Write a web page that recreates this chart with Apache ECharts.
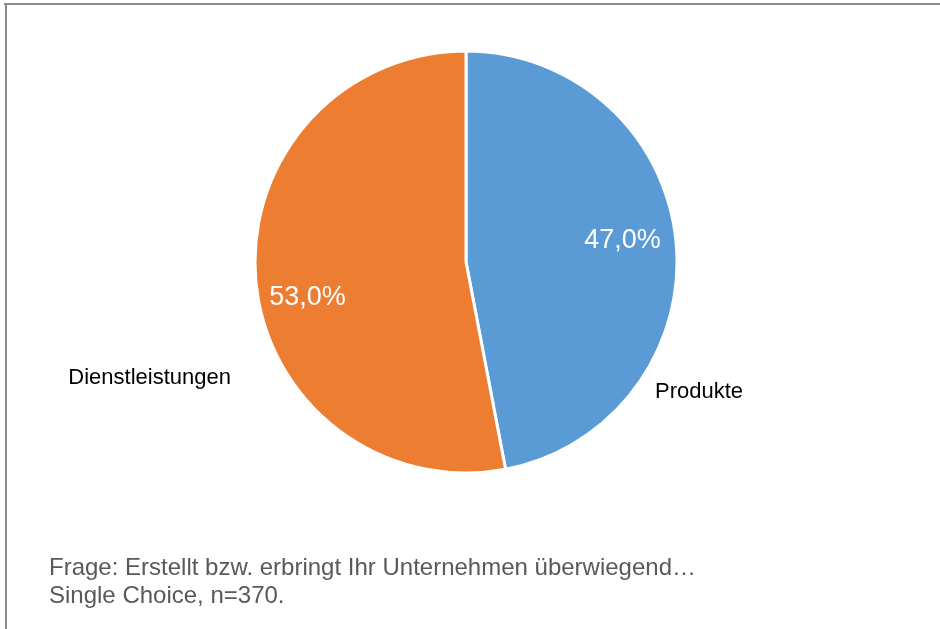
<!DOCTYPE html>
<html>
<head>
<meta charset="utf-8">
<script src="https://cdn.jsdelivr.net/npm/echarts@6/dist/echarts.min.js"></script>
<style>
html,body{margin:0;padding:0;background:#fff;}
#frame{position:absolute;left:0;top:0;width:940px;height:629px;}
#chart{width:940px;height:629px;}
</style>
</head>
<body>
<div id="frame"><div id="chart"></div></div>
<script>
var categories = ['Produkte', 'Dienstleistungen'];
var values = [47.0, 53.0];
var colors = ['#5B9BD5', '#ED7D31'];
var noteLines = ['Frage: Erstellt bzw. erbringt Ihr Unternehmen überwiegend…', 'Single Choice, n=370.'];

var data = categories.map(function (c, i) {
  return { name: c, value: values[i], itemStyle: { color: colors[i] } };
});
function fmtPct(v) { return v.toFixed(1).replace('.', ',') + '%'; }

var chart = echarts.init(document.getElementById('chart'), null, { renderer: 'canvas' });
var R = 211, CX = 466, CY = 262;
chart.setOption({
  backgroundColor: '#fff',
  animation: false,
  title: {
    text: noteLines.join('\n'),
    left: 44, top: 549,
    textStyle: { fontFamily: 'Liberation Sans, Arial, sans-serif', fontSize: 24, fontWeight: 'normal', color: '#595959', lineHeight: 28 }
  },
  graphic: [
    { type: 'line', shape: { x1: 4, y1: 4, x2: 940, y2: 4 }, style: { stroke: '#8c8c8c', lineWidth: 2 }, silent: true },
    { type: 'line', shape: { x1: 6, y1: 3, x2: 6, y2: 629 }, style: { stroke: '#8c8c8c', lineWidth: 2 }, silent: true }
  ],
  series: [
    {
      type: 'pie',
      center: [CX, CY],
      radius: [0, R],
      startAngle: 90,
      clockwise: true,
      data: data,
      itemStyle: { borderColor: '#fff', borderWidth: 3 },
      label: {
        show: true, position: 'outside',
        formatter: '{b}',
        fontFamily: 'Liberation Sans, Arial, sans-serif', fontSize: 22, color: '#000'
      },
      labelLine: { show: false },
      labelLayout: function (p) {
        if (p.dataIndex === 0) return { x: 655, y: 392, align: 'left', verticalAlign: 'middle' };
        return { x: 231, y: 378, align: 'right', verticalAlign: 'middle' };
      },
      emphasis: { disabled: true }
    },
    {
      type: 'pie',
      center: [CX, CY],
      radius: [R * 0.5, R],
      startAngle: 90,
      clockwise: true,
      silent: true,
      data: data.map(function (d) { return { name: d.name, value: d.value, itemStyle: { color: 'rgba(0,0,0,0)' } }; }),
      label: {
        show: true, position: 'inside',
        formatter: function (p) { return fmtPct(p.value); },
        fontFamily: 'Liberation Sans, Arial, sans-serif', fontSize: 27, color: '#fff'
      },
      labelLayout: function (p) {
        if (p.dataIndex === 1) return { dy: 20, dx: 2 };
        return { dy: -6, dx: -4 };
      },
      labelLine: { show: false },
      emphasis: { disabled: true },
      tooltip: { show: false }
    }
  ]
});
</script>
</body>
</html>
